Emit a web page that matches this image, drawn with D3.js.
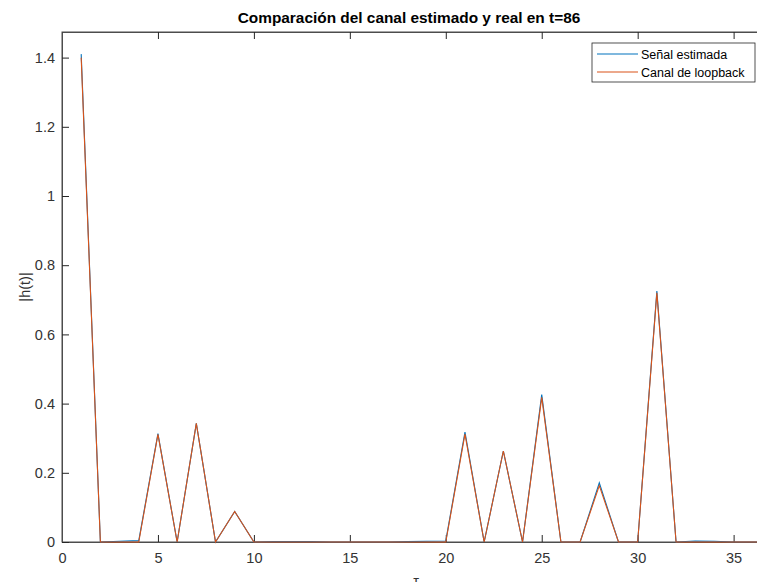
<!DOCTYPE html>
<html>
<head>
<meta charset="utf-8">
<script src="https://cdn.jsdelivr.net/npm/d3@7"></script>
<style>
  body { margin: 0; background: #fff; }
  text { font-family: "Liberation Sans", Arial, sans-serif; }
</style>
</head>
<body>
<div id="chart"></div>
<script>
// sample index (tau) and the two curves
var tau = d3.range(1, 38);
var estimada = [1.41, 0, 0.002, 0.004, 0.313, 0, 0.343, 0, 0.088, 0,
  0.001, 0.001, 0.001, 0, 0, 0, 0, 0.001, 0.002, 0.003,
  0.318, 0, 0.263, 0, 0.426, 0, 0, 0.171, 0, 0,
  0.725, 0, 0.003, 0.002, 0, 0, 0];
var loopback = [1.40, 0, 0, 0, 0.311, 0, 0.343, 0, 0.088, 0,
  0, 0, 0, 0, 0, 0, 0, 0, 0, 0,
  0.312, 0, 0.263, 0, 0.418, 0, 0, 0.163, 0, 0,
  0.72, 0, 0, 0, 0, 0, 0];
var xTicks = [0, 5, 10, 15, 20, 25, 30, 35];
var yTicks = [0, 0.2, 0.4, 0.6, 0.8, 1, 1.2, 1.4];
var seriesNames = ["Señal estimada", "Canal de loopback"];
var colors = ["#0072BD", "#D95319"];

var W = 757, H = 582;
// note: "top" is reserved on window, so use a box object
var box = {left: 62, right: 772, top: 32, bottom: 542};

var svg = d3.select("#chart").append("svg")
  .attr("width", W)
  .attr("height", H);

var x = d3.scaleLinear().domain([0, 37]).range([box.left, box.right]);
var y = d3.scaleLinear().domain([0, 1.474]).range([box.bottom, box.top]);

// axes box
svg.append("rect")
  .attr("x", box.left).attr("y", box.top)
  .attr("width", box.right - box.left).attr("height", box.bottom - box.top)
  .attr("fill", "#fff")
  .attr("stroke", "#4d4d4d")
  .attr("stroke-width", 1);

var tickLen = 7;

// bottom axis, ticks inward
var xAxis = svg.append("g")
  .attr("transform", "translate(0," + box.bottom + ")")
  .call(d3.axisBottom(x).tickValues(xTicks).tickSize(-tickLen).tickPadding(tickLen + 4)
    .tickFormat(d3.format("d")));
// top ticks, no labels
var xTop = svg.append("g")
  .attr("transform", "translate(0," + box.top + ")")
  .call(d3.axisTop(x).tickValues(xTicks).tickSize(-tickLen).tickFormat(""));
// left axis
var yAxis = svg.append("g")
  .attr("transform", "translate(" + box.left + ",0)")
  .call(d3.axisLeft(y).tickValues(yTicks).tickSize(-tickLen).tickPadding(7)
    .tickFormat(function(d){ return d3.format("~g")(d); }));
yAxis.selectAll(".tick text").attr("x", -7);

[xAxis, xTop, yAxis].forEach(function(g){
  g.select(".domain").attr("stroke", "#4d4d4d");
  g.selectAll(".tick line").attr("stroke", "#262626");
  g.selectAll("text").attr("fill", "#333").style("font-size", "14.5px");
});

// lines
var line = d3.line()
  .x(function(d, i){ return x(tau[i]); })
  .y(function(d){ return y(d); });

[estimada, loopback].forEach(function(s, k){
  svg.append("path")
    .attr("d", line(s))
    .attr("fill", "none")
    .attr("stroke", colors[k])
    .attr("stroke-width", 1.1);
});

// title
svg.append("text")
  .attr("x", 409).attr("y", 23)
  .attr("text-anchor", "middle")
  .style("font-size", "15.4px")
  .attr("font-weight", "bold")
  .attr("fill", "#000")
  .text("Comparación del canal estimado y real en t=86");

// axis labels
svg.append("text")
  .attr("transform", "translate(30," + ((box.top + box.bottom) / 2) + ") rotate(-90)")
  .attr("text-anchor", "middle")
  .style("font-size", "14.5px")
  .attr("fill", "#333")
  .text("|h(t)|");

svg.append("text")
  .attr("x", 416).attr("y", 586)
  .attr("text-anchor", "middle")
  .style("font-size", "14.5px")
  .attr("fill", "#333")
  .text("τ");

// legend
var lg = svg.append("g").attr("transform", "translate(592,43)");
lg.append("rect")
  .attr("width", 163).attr("height", 39)
  .attr("fill", "#fff")
  .attr("stroke", "#262626")
  .attr("stroke-width", 0.8);
seriesNames.forEach(function(name, k){
  var yy = 11 + k * 18;
  lg.append("line")
    .attr("x1", 5).attr("x2", 46)
    .attr("y1", yy).attr("y2", yy)
    .attr("stroke", colors[k])
    .attr("stroke-width", 1.1);
  lg.append("text")
    .attr("x", 49).attr("y", yy + 4.5)
    .style("font-size", "12.5px")
    .attr("fill", "#000")
    .text(name);
});
</script>
</body>
</html>
